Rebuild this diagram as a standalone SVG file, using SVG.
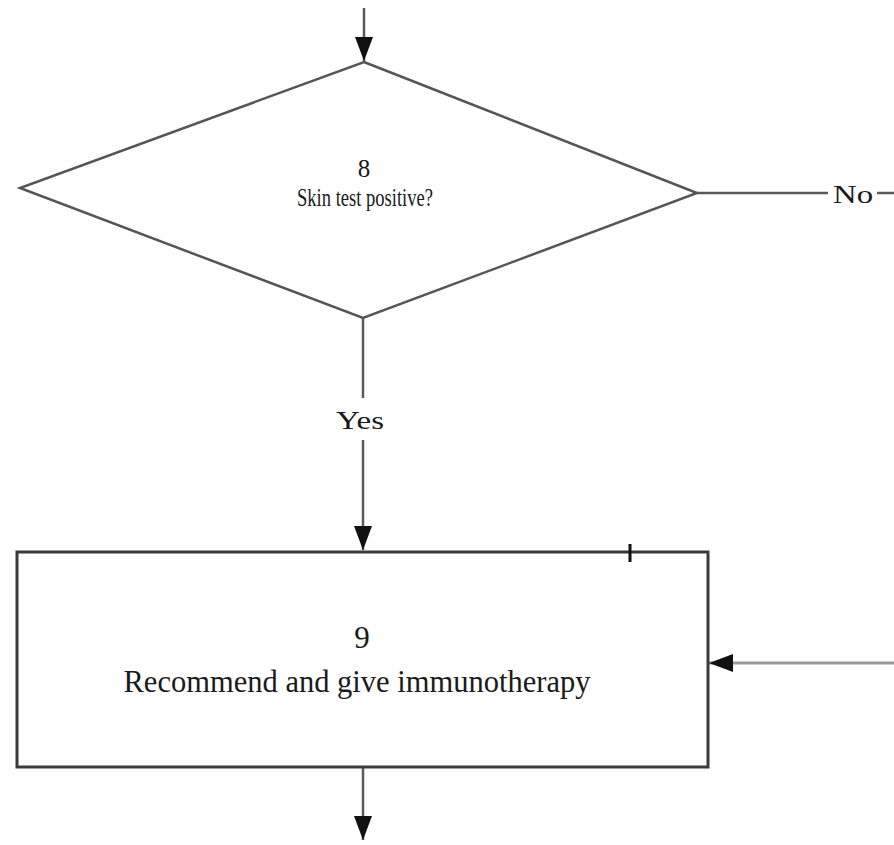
<svg xmlns="http://www.w3.org/2000/svg" width="894" height="845" viewBox="0 0 894 845">
  <style>
    .line { stroke: #5a5a5a; stroke-width: 2.5; fill: none; }
    .shape { stroke: #555; stroke-width: 2.5; fill: #fff; }
    .label { font-family: "Liberation Serif", "Times New Roman", serif; fill: #1a1a1a; text-anchor: middle; }
  </style>
  <defs>
    <marker id="arrow" viewBox="0 0 24 18" refX="24" refY="9" markerWidth="24" markerHeight="18" markerUnits="userSpaceOnUse" orient="auto">
      <path d="M0,0 L24,9 L0,18 Z" fill="#111"/>
    </marker>
  </defs>

  <rect width="894" height="845" fill="#fff"/>

  <!-- connectors -->
  <g id="connectors">
    <line class="line" x1="364" y1="8" x2="364" y2="61" marker-end="url(#arrow)"/>
    <line class="line" x1="697" y1="193" x2="828" y2="193"/>
    <line class="line" x1="877" y1="193" x2="894" y2="193"/>
    <line class="line" x1="363" y1="318" x2="363" y2="398"/>
    <line class="line" x1="363" y1="440" x2="363" y2="550" marker-end="url(#arrow)"/>
    <line class="line" x1="894" y1="663" x2="709" y2="663" marker-end="url(#arrow)" style="stroke:#9a9a9a;stroke-width:3"/>
    <line class="line" x1="363" y1="768" x2="363" y2="840" marker-end="url(#arrow)"/>
    <text class="label" x="853" y="203" font-size="26" textLength="40" lengthAdjust="spacingAndGlyphs">No</text>
    <text class="label" x="360" y="429" font-size="26" textLength="48" lengthAdjust="spacingAndGlyphs">Yes</text>
  </g>

  <!-- decision 8 -->
  <g id="node-8">
    <polygon class="shape" points="364,62 697,193 363,318 20,188"/>
    <text class="label" x="364" y="177" font-size="25">8</text>
    <text class="label" x="365" y="206" font-size="25" textLength="136" lengthAdjust="spacingAndGlyphs">Skin test positive?</text>
  </g>

  <!-- process 9 -->
  <g id="node-9">
    <rect x="17" y="552" width="691" height="215" fill="#fff" stroke="#3a3a3a" stroke-width="3"/>
    <line x1="630" y1="544" x2="630" y2="562" stroke="#111" stroke-width="3"/>
    <text class="label" x="362" y="648" font-size="31">9</text>
    <text class="label" x="357" y="692" font-size="32" textLength="467" lengthAdjust="spacingAndGlyphs">Recommend and give immunotherapy</text>
  </g>
</svg>
